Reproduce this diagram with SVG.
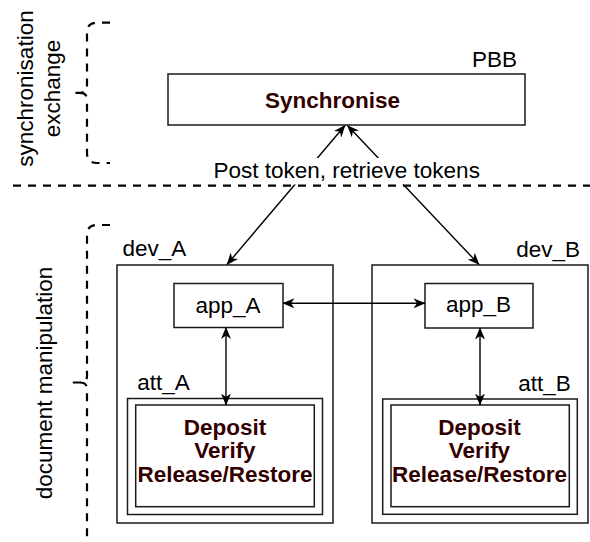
<svg xmlns="http://www.w3.org/2000/svg" width="590" height="542" viewBox="0 0 590 542">
  <style>
    text { font-family: "Liberation Sans", Arial, sans-serif; font-size: 22.5px; fill: #000; }
    .bold { font-weight: bold; fill: #330000; }
    .mid { text-anchor: middle; }
    .end { text-anchor: end; }
    .box { fill: #fff; stroke: #1a1a1a; stroke-width: 1.5; }
    .edge { fill: none; stroke: #000; stroke-width: 1.4; marker-start: url(#arrow); marker-end: url(#arrow); }
    .dash { fill: none; stroke: #000; stroke-width: 2.2; stroke-dasharray: 8 7; }
  </style>
  <defs>
    <marker id="arrow" viewBox="0 0 12 10" refX="11.5" refY="5" markerWidth="12" markerHeight="10" markerUnits="userSpaceOnUse" orient="auto-start-reverse">
      <path d="M0,0 L12,5 L0,10 L3.5,5 Z" fill="#000"/>
    </marker>
  </defs>

  <rect width="590" height="542" fill="#fff"/>

  <!-- section braces and captions -->
  <g id="sync-exchange">
    <path class="dash" d="M110,22.7 L97,22.7 Q87,22.7 87,32 L87,86 Q87,92.8 80,92.8 L72,92.8 M80,92.8 Q87,92.8 87,99.6 L87,153 Q87,163 97,163 L110,163"/>
    <text class="mid" transform="translate(32.5,88.5) rotate(-90)">synchronisation</text>
    <text class="mid" transform="translate(59.5,88.5) rotate(-90)">exchange</text>
  </g>
  <g id="doc-manipulation">
    <path class="dash" d="M110,225 L97,225 Q87,225 87,235 L87,376 Q87,382.5 80,382.5 L68,382.5 M80,382.5 Q87,382.5 87,389 L87,546 Q87,556 97,556 L110,556"/>
    <text class="mid" transform="translate(51.5,383) rotate(-90)">document manipulation</text>
  </g>

  <!-- PBB -->
  <g id="pbb">
    <rect class="box" x="168" y="74" width="357" height="51"/>
    <text class="end" x="517" y="67">PBB</text>
    <text class="bold mid" x="332.5" y="107.5">Synchronise</text>
  </g>

  <!-- devices -->
  <g id="dev_A">
    <rect class="box" x="117" y="265" width="216" height="258"/>
    <text x="122.5" y="255.5">dev_A</text>
  </g>
  <g id="dev_B">
    <rect class="box" x="372" y="265" width="216" height="258"/>
    <text class="end" x="580" y="256.5">dev_B</text>
  </g>

  <g id="app_A">
    <rect class="box" x="174" y="283.5" width="109" height="44"/>
    <text class="mid" x="228" y="312.5">app_A</text>
  </g>
  <g id="app_B">
    <rect class="box" x="425" y="283.5" width="108" height="44.5"/>
    <text class="mid" x="478.5" y="312">app_B</text>
  </g>

  <g id="att_A">
    <rect class="box" x="127.5" y="398.5" width="195" height="116"/>
    <rect class="box" x="135.7" y="405" width="178.6" height="101.7"/>
    <text x="137.3" y="390">att_A</text>
    <text class="bold mid" x="225" y="434.5">Deposit</text>
    <text class="bold mid" x="225" y="458.3">Verify</text>
    <text class="bold mid" x="225" y="482">Release/Restore</text>
  </g>
  <g id="att_B">
    <rect class="box" x="382.7" y="399" width="194.6" height="115.3"/>
    <rect class="box" x="391" y="405" width="178.3" height="101.7"/>
    <text class="end" x="570.7" y="390.5">att_B</text>
    <text class="bold mid" x="479.5" y="434.5">Deposit</text>
    <text class="bold mid" x="479.5" y="458.3">Verify</text>
    <text class="bold mid" x="479.5" y="482">Release/Restore</text>
  </g>

  <!-- connectors -->
  <g id="connectors">
    <line class="edge" x1="227" y1="264.5" x2="345" y2="125.5"/>
    <line class="edge" x1="479" y1="264.5" x2="347.5" y2="125.5"/>
    <line class="edge" x1="283" y1="303.3" x2="425" y2="303.3"/>
    <line class="edge" x1="226" y1="327.5" x2="226" y2="405"/>
    <line class="edge" x1="480" y1="328" x2="480" y2="405"/>
    <rect x="210" y="158" width="274" height="26.5" fill="#fff"/>
    <text class="mid" x="346.7" y="178">Post token, retrieve tokens</text>
  </g>

  <!-- boundary between the two sections -->
  <line class="dash" x1="13" y1="185.7" x2="590" y2="185.7"/>
</svg>
